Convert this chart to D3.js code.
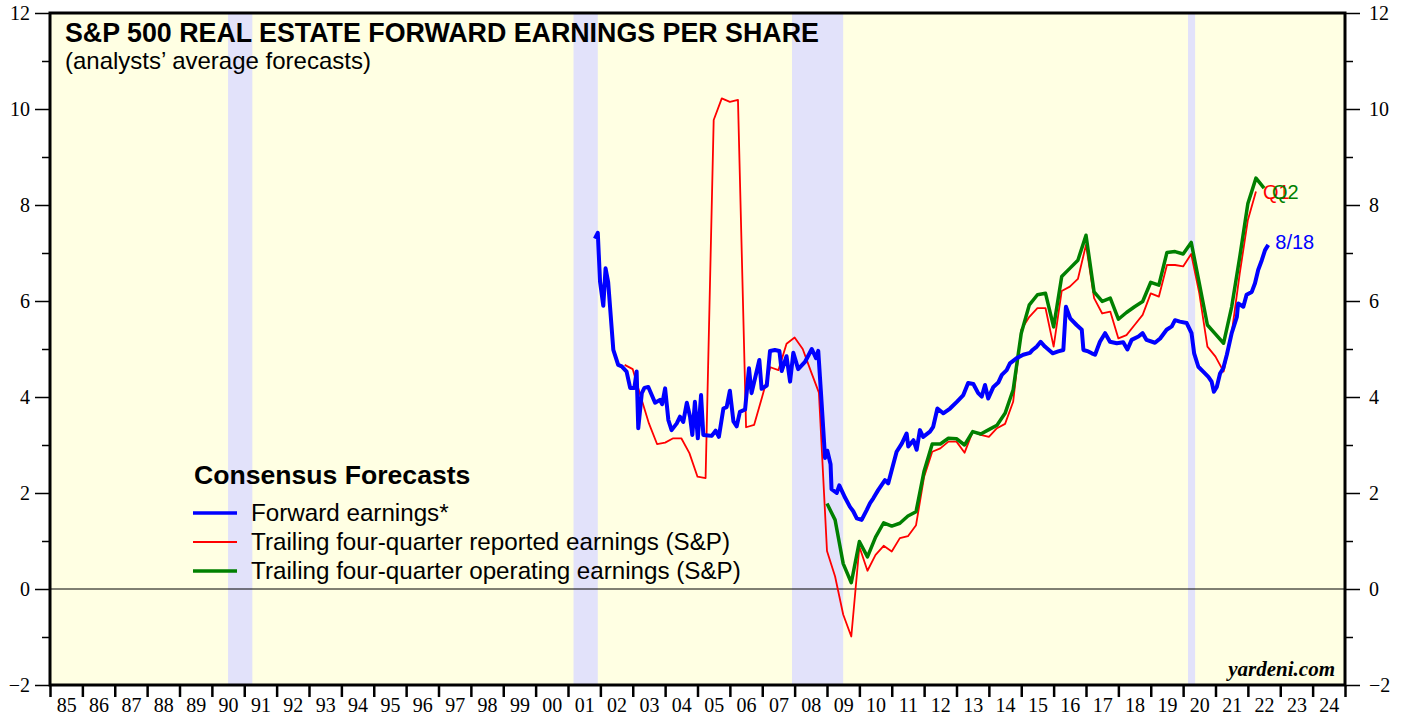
<!DOCTYPE html>
<html>
<head>
<meta charset="utf-8">
<script src="https://cdn.jsdelivr.net/npm/d3@7"></script>
<style>
  body { margin: 0; background: #fff; }
  svg { display: block; }
  .tick text { font-family: "Liberation Serif", "Times New Roman", serif; font-size: 20px; fill: #000; }
</style>
</head>
<body>
<div id="chart"></div>
<script>
// Recession periods (decimal years)
const recessions = [[1990.5, 1991.25], [2001.17, 2001.92], [2007.92, 2009.5], [2020.15, 2020.37]];

// Forward earnings (weekly) as [decimal year, value]
const forward = [
  [2001.83, 7.30], [2001.92, 7.42], [2001.99, 6.40], [2002.09, 5.90], [2002.16, 6.68], [2002.24, 6.40],
  [2002.40, 4.98], [2002.55, 4.67], [2002.66, 4.64], [2002.81, 4.53], [2002.92, 4.19], [2003.05, 4.19],
  [2003.12, 4.53], [2003.17, 3.35], [2003.28, 4.08], [2003.36, 4.19], [2003.48, 4.21], [2003.69, 3.88],
  [2003.84, 3.94], [2003.91, 3.85], [2004.00, 4.18], [2004.10, 3.52], [2004.20, 3.31], [2004.36, 3.45],
  [2004.46, 3.59], [2004.56, 3.48], [2004.67, 3.88], [2004.77, 3.59], [2004.84, 3.21], [2004.92, 3.90],
  [2005.01, 3.14], [2005.11, 4.04], [2005.18, 3.21], [2005.33, 3.20], [2005.44, 3.19], [2005.56, 3.30],
  [2005.66, 3.17], [2005.80, 3.76], [2005.90, 3.79], [2006.00, 4.13], [2006.11, 3.49], [2006.21, 3.39],
  [2006.31, 3.69], [2006.47, 3.74], [2006.59, 4.60], [2006.67, 4.08], [2006.91, 4.77], [2006.98, 4.17],
  [2007.14, 4.24], [2007.24, 4.96], [2007.39, 4.98], [2007.53, 4.96], [2007.60, 4.54], [2007.75, 4.85],
  [2007.86, 4.32], [2007.96, 4.92], [2008.11, 4.58], [2008.32, 4.73], [2008.53, 5.00], [2008.66, 4.81],
  [2008.73, 4.96], [2008.81, 4.13], [2008.94, 2.73], [2009.01, 2.88], [2009.11, 2.60], [2009.14, 2.08],
  [2009.30, 2.00], [2009.38, 2.16], [2009.56, 1.90], [2009.71, 1.71], [2009.81, 1.62], [2009.92, 1.47],
  [2010.07, 1.44], [2010.23, 1.65], [2010.33, 1.79], [2010.43, 1.89], [2010.58, 2.06], [2010.79, 2.27],
  [2010.89, 2.20], [2011.00, 2.48], [2011.15, 2.86], [2011.31, 3.03], [2011.46, 3.24], [2011.51, 2.97],
  [2011.67, 3.10], [2011.77, 2.90], [2011.87, 3.31], [2011.97, 3.17], [2012.18, 3.28], [2012.28, 3.38],
  [2012.41, 3.76], [2012.59, 3.66], [2012.80, 3.76], [2013.01, 3.90], [2013.21, 4.04], [2013.36, 4.29],
  [2013.52, 4.27], [2013.67, 4.08], [2013.78, 4.01], [2013.88, 4.25], [2013.98, 3.97], [2014.14, 4.21],
  [2014.29, 4.30], [2014.40, 4.46], [2014.55, 4.56], [2014.65, 4.70], [2014.86, 4.81], [2015.06, 4.88],
  [2015.27, 4.92], [2015.35, 4.98], [2015.48, 5.05], [2015.60, 5.15], [2015.73, 5.05], [2015.97, 4.91],
  [2016.14, 4.95], [2016.30, 4.98], [2016.38, 5.88], [2016.51, 5.64], [2016.71, 5.50], [2016.87, 5.40],
  [2016.92, 4.98], [2017.07, 4.95], [2017.18, 4.91], [2017.28, 4.88], [2017.43, 5.15], [2017.59, 5.33],
  [2017.74, 5.15], [2017.95, 5.12], [2018.15, 5.14], [2018.28, 4.99], [2018.41, 5.19], [2018.62, 5.26],
  [2018.75, 5.33], [2018.87, 5.19], [2019.13, 5.13], [2019.29, 5.22], [2019.49, 5.40], [2019.65, 5.47],
  [2019.75, 5.60], [2019.90, 5.57], [2020.11, 5.54], [2020.26, 5.33], [2020.34, 4.91], [2020.47, 4.63],
  [2020.62, 4.53], [2020.78, 4.42], [2020.88, 4.32], [2020.95, 4.11], [2021.04, 4.21], [2021.14, 4.49],
  [2021.24, 4.60], [2021.35, 4.88], [2021.50, 5.33], [2021.66, 5.67], [2021.70, 5.95], [2021.86, 5.88],
  [2021.96, 6.13], [2022.12, 6.19], [2022.22, 6.37], [2022.32, 6.65], [2022.43, 6.85], [2022.53, 7.06],
  [2022.63, 7.17]
];

// Trailing four-quarter reported earnings, quarterly from Q3 2002
const reportedStart = 2002.75;
const reported = [
  4.67, 4.58, 4.00, 3.45, 3.02, 3.05, 3.14, 3.14, 2.83, 2.34, 2.31, 9.77, 10.22, 10.15, 10.19, 3.37,
  3.42, 4.01, 4.62, 4.56, 5.11, 5.24, 5.00, 4.54, 4.09, 0.79, 0.26, -0.53, -0.99, 0.88, 0.38, 0.71,
  0.90, 0.78, 1.06, 1.10, 1.33, 2.34, 2.86, 2.93, 3.07, 3.07, 2.84, 3.28, 3.21, 3.17, 3.35, 3.44,
  3.90, 5.40, 5.67, 5.85, 5.85, 5.05, 6.21, 6.30, 6.46, 7.17, 6.06, 5.74, 5.78, 5.22, 5.29, 5.50,
  5.71, 6.16, 6.09, 6.75, 6.75, 6.72, 6.98, 6.16, 5.05, 4.84, 4.53, 5.33, 6.58, 7.69, 8.28
];

// Trailing four-quarter operating earnings, quarterly from Q4 2008
const operatingStart = 2009.0;
const operating = [
  1.78, 1.44, 0.53, 0.13, 0.99, 0.67, 1.08, 1.38, 1.31, 1.37, 1.52, 1.61, 2.46, 3.02, 3.02, 3.14,
  3.13, 3.00, 3.28, 3.23, 3.32, 3.41, 3.66, 4.15, 5.33, 5.92, 6.13, 6.16, 5.46, 6.51, 6.68, 6.85,
  7.37, 6.19, 5.99, 6.06, 5.62, 5.76, 5.88, 5.99, 6.39, 6.33, 7.01, 7.03, 6.98, 7.22, 6.37, 5.50,
  5.31, 5.12, 5.88, 6.92, 8.03, 8.56, 8.35
];

const legendItems = [
  { label: "Forward earnings*", color: "#0000ff", width: 3.5 },
  { label: "Trailing four-quarter reported earnings (S&P)", color: "#ff0000", width: 1.8 },
  { label: "Trailing four-quarter operating earnings (S&P)", color: "#008000", width: 3.5 }
];

const width = 1405, height = 717;
const margin = { top: 13, right: 60, bottom: 32, left: 50 };

const svg = d3.select("#chart").append("svg")
  .attr("width", width).attr("height", height);

const x = d3.scaleLinear().domain([1985, 2025]).range([margin.left, width - margin.right]);
const y = d3.scaleLinear().domain([-2, 12]).range([height - margin.bottom, margin.top]);

// plot background + recession bands
svg.append("rect")
  .attr("x", x(1985)).attr("y", y(12))
  .attr("width", x(2025) - x(1985)).attr("height", y(-2) - y(12))
  .attr("fill", "#ffffe3");

svg.append("g").selectAll("rect")
  .data(recessions)
  .join("rect")
  .attr("x", d => x(d[0]))
  .attr("y", y(12))
  .attr("width", d => x(d[1]) - x(d[0]))
  .attr("height", y(-2) - y(12))
  .attr("fill", "#e2e2fa");

// zero line
svg.append("line")
  .attr("x1", x(1985)).attr("x2", x(2025))
  .attr("y1", y(0)).attr("y2", y(0))
  .attr("stroke", "#000").attr("stroke-width", 1);

// --- axes ---
const evens = d3.range(-2, 13, 2);
const odds = d3.range(-1, 12, 2);

svg.append("g").attr("transform", `translate(${x(1985)},0)`)
  .call(d3.axisLeft(y).tickValues(evens).tickSize(15).tickPadding(5).tickFormat(d3.format("d")));
svg.append("g").attr("transform", `translate(${x(1985)},0)`)
  .call(d3.axisLeft(y).tickValues(odds).tickSize(8).tickFormat(""));
svg.append("g").attr("transform", `translate(${x(2025)},0)`)
  .call(d3.axisRight(y).tickValues(evens).tickSize(15).tickPadding(9).tickFormat(d3.format("d")));
svg.append("g").attr("transform", `translate(${x(2025)},0)`)
  .call(d3.axisRight(y).tickValues(odds).tickSize(8).tickFormat(""));

// year ticks and labels
svg.append("g").attr("class", "xticks").attr("transform", `translate(0,${y(-2) + 1})`)
  .call(d3.axisBottom(x).tickValues(d3.range(1985, 2026)).tickSize(11).tickFormat(""));
svg.append("g").attr("transform", `translate(0,${y(-2) + 1})`)
  .call(d3.axisBottom(x).tickValues(d3.range(1985.5, 2025, 1)).tickSize(0).tickPadding(12)
    .tickFormat(d => String(Math.floor(d) % 100).padStart(2, "0")));

svg.selectAll(".domain").remove();
svg.selectAll(".tick line").attr("stroke", "#000").attr("stroke-width", 1.5);
svg.selectAll(".xticks .tick line").attr("stroke-width", 2.5);

// frame
svg.append("rect")
  .attr("x", x(1985)).attr("y", y(12))
  .attr("width", x(2025) - x(1985)).attr("height", y(-2) - y(12))
  .attr("fill", "none").attr("stroke", "#000").attr("stroke-width", 3);

// --- lines ---
const line = d3.line().x(d => x(d[0])).y(d => y(d[1]));
const reportedPts = reported.map((v, i) => [reportedStart + i * 0.25, v]);
const operatingPts = operating.map((v, i) => [operatingStart + i * 0.25, v]);

svg.append("path").datum(reportedPts)
  .attr("d", line).attr("fill", "none")
  .attr("stroke", "#ff0000").attr("stroke-width", 1.8).attr("stroke-linejoin", "round");
svg.append("path").datum(operatingPts)
  .attr("d", line).attr("fill", "none")
  .attr("stroke", "#008000").attr("stroke-width", 3.5).attr("stroke-linejoin", "round");
svg.append("path").datum(forward)
  .attr("d", line).attr("fill", "none")
  .attr("stroke", "#0000ff").attr("stroke-width", 4).attr("stroke-linejoin", "round");

// end labels (they overlap in the original too)
const sans = "'Liberation Sans', Arial, sans-serif";
const lastR = reportedPts[reportedPts.length - 1];
const lastO = operatingPts[operatingPts.length - 1];
const lastF = forward[forward.length - 1];
svg.append("text").attr("x", x(lastR[0]) + 7).attr("y", y(8.28) + 7)
  .attr("font-family", sans).attr("font-size", 20).attr("fill", "#ff0000").text("Q1");
svg.append("text").attr("x", x(lastO[0]) + 8).attr("y", y(8.28) + 7)
  .attr("font-family", sans).attr("font-size", 20).attr("fill", "#008000").text("Q2");
svg.append("text").attr("x", x(lastF[0]) + 7).attr("y", y(lastF[1]) + 4)
  .attr("font-family", sans).attr("font-size", 20).attr("fill", "#0000ff").text("8/18");

// titles
svg.append("text").attr("x", 65).attr("y", 42)
  .attr("font-family", sans).attr("font-weight", "bold").attr("font-size", 26.8)
  .text("S&P 500 REAL ESTATE FORWARD EARNINGS PER SHARE");
svg.append("text").attr("x", 65).attr("y", 69)
  .attr("font-family", sans).attr("font-size", 24)
  .text("(analysts\u2019 average forecasts)");

// legend
const legend = svg.append("g").attr("transform", "translate(193,0)");
legend.append("text").attr("x", 1).attr("y", 484)
  .attr("font-family", sans).attr("font-weight", "bold").attr("font-size", 26.6)
  .text("Consensus Forecasts");
const rows = legend.selectAll("g.row").data(legendItems).join("g")
  .attr("transform", (d, i) => `translate(0,${513 + i * 29})`);
rows.append("line").attr("x1", 0).attr("x2", 44).attr("y1", 0).attr("y2", 0)
  .attr("stroke", d => d.color).attr("stroke-width", d => d.width);
rows.append("text").attr("x", 58).attr("y", 8)
  .attr("font-family", sans).attr("font-size", 24.2).text(d => d.label);

// watermark
svg.append("text").attr("x", 1335).attr("y", 676).attr("text-anchor", "end")
  .attr("font-family", "'Liberation Serif', 'Times New Roman', serif")
  .attr("font-weight", "bold").attr("font-style", "italic").attr("font-size", 21)
  .text("yardeni.com");
</script>
</body>
</html>
